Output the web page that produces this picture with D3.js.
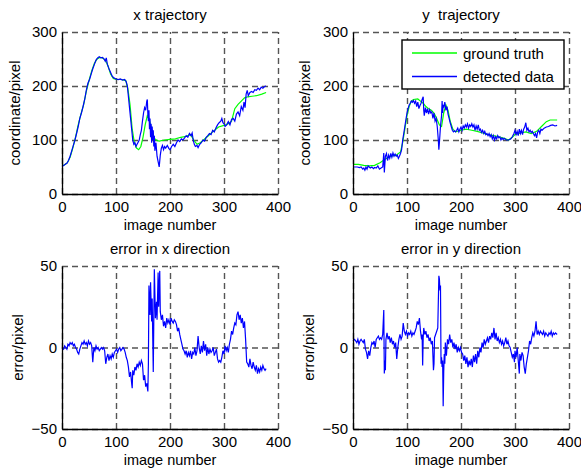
<!DOCTYPE html>
<html>
<head>
<meta charset="utf-8">
<script src="https://cdn.jsdelivr.net/npm/d3@7"></script>
<style>
  body { margin: 0; background: #fff; }
  text { font-family: "Liberation Sans", Arial, sans-serif; fill: #000; }
</style>
</head>
<body>
<div id="chart"></div>
<script>
// tick labels
var frameTicks = [0, 100, 200, 300, 400]
var coordTicks = [0, 100, 200, 300]
var errorTicks = [-50, 0, 50]
var legendNames = ['ground truth', 'detected data']
var legendColors = ['#00ff00', '#0000ff']

// [image number, value]
var xTruth = [[0,52],[5,54],[10,58],[15,68],[20,85],[25,105],[30,128],[35,148],[40,165],[45,190],[50,210],[55,228],[60,242],[65,250],[70,253],[75,252],[80,248],[85,238],[90,222],[95,214],[100,212],[110,212],[118,210],[122,195],[126,165],[130,120],[134,95],[138,85],[142,82],[146,88],[150,105],[154,128],[158,145],[161,140],[164,128],[168,112],[172,102],[176,99],[180,98],[190,100],[200,101],[210,102],[220,105],[230,107],[238,110],[244,100],[250,92],[256,95],[262,100],[270,107],[280,116],[290,124],[300,127],[308,130],[314,135],[320,158],[326,166],[332,172],[338,178],[344,180],[352,181],[360,182],[370,185],[378,188]]

var xDetected = [[0,51],[3,53],[6,55],[9,57],[12,62],[15,70],[18,80],[21,90],[24,100],[27,112],[30,125],[33,140],[36,150],[39,162],[42,175],[45,192],[48,205],[51,212],[54,222],[57,232],[60,240],[63,248],[66,252],[69,254],[72,252],[75,253],[78,250],[80,246],[82,252],[84,240],[87,232],[90,225],[93,218],[96,215],[100,213],[104,212],[108,213],[112,211],[116,212],[119,208],[121,200],[123,180],[125,160],[127,140],[129,120],[131,100],[133,92],[135,95],[137,88],[139,92],[141,96],[143,100],[145,110],[147,118],[149,135],[151,150],[153,160],[155,155],[157,172],[158,175],[159,148],[160,135],[161,155],[162,120],[163,140],[164,105],[165,130],[166,95],[167,125],[168,100],[169,118],[170,88],[171,108],[172,80],[174,95],[176,70],[178,60],[180,50],[182,72],[184,85],[186,90],[188,82],[190,88],[192,85],[195,90],[198,84],[200,82],[203,88],[206,92],[209,88],[212,95],[215,100],[218,97],[221,102],[224,100],[227,104],[230,108],[233,105],[236,112],[239,108],[241,113],[243,100],[245,92],[247,88],[250,90],[252,86],[255,92],[258,95],[261,100],[264,98],[267,105],[270,108],[273,112],[276,110],[279,118],[282,115],[285,122],[288,128],[291,132],[294,135],[296,140],[298,132],[300,130],[302,125],[305,128],[308,134],[311,128],[314,138],[317,140],[320,135],[323,148],[326,152],[329,145],[332,162],[335,155],[337,170],[339,160],[341,185],[343,192],[345,182],[348,188],[351,190],[354,188],[357,193],[360,192],[363,196],[366,193],[369,198],[372,196],[375,199],[378,200]]

var yTruth = [[0,55],[10,55],[20,53],[30,52],[40,53],[50,58],[60,65],[70,70],[80,72],[88,78],[92,95],[96,120],[100,145],[104,162],[108,172],[112,175],[120,176],[125,172],[130,168],[135,162],[140,158],[145,155],[150,150],[155,140],[160,128],[164,125],[168,150],[172,165],[176,155],[180,135],[185,120],[190,115],[200,118],[210,120],[220,118],[230,116],[240,113],[250,110],[260,108],[270,106],[280,103],[288,100],[295,105],[300,110],[310,113],[320,115],[330,112],[340,116],[350,126],[358,134],[365,137],[378,137]]

var yDetected = [[0,50],[4,50],[8,50],[12,49],[15,50],[18,46],[20,48],[22,44],[24,50],[26,46],[28,52],[30,50],[32,48],[35,50],[38,47],[40,49],[43,48],[46,52],[49,46],[52,48],[55,50],[57,76],[58,40],[60,70],[62,75],[64,62],[66,72],[68,66],[70,75],[72,68],[74,76],[76,70],[78,74],[80,70],[82,72],[84,66],[86,70],[88,75],[90,82],[92,100],[94,112],[96,125],[98,138],[100,150],[102,158],[104,165],[106,168],[108,172],[110,170],[112,173],[114,168],[116,172],[118,162],[120,170],[122,158],[124,164],[126,168],[128,175],[130,180],[131,155],[132,145],[134,160],[136,150],[138,158],[140,148],[142,156],[144,150],[146,152],[148,140],[150,150],[152,135],[154,140],[156,125],[158,100],[159,82],[160,95],[161,110],[162,125],[164,145],[165,172],[166,150],[167,165],[168,160],[170,170],[172,155],[174,162],[176,148],[178,140],[180,132],[182,125],[184,118],[186,115],[188,117],[190,115],[192,118],[194,122],[196,115],[198,120],[200,124],[202,118],[204,126],[206,122],[208,128],[210,124],[212,130],[214,122],[216,128],[218,125],[220,130],[222,124],[224,128],[226,118],[228,126],[230,120],[232,128],[234,118],[236,120],[238,114],[240,118],[242,112],[244,116],[246,110],[248,112],[250,108],[252,112],[254,106],[256,110],[258,102],[260,108],[262,100],[264,106],[266,102],[268,108],[270,104],[272,106],[274,100],[276,104],[278,101],[280,103],[284,100],[288,100],[292,102],[295,106],[298,112],[300,118],[302,110],[304,116],[306,108],[308,120],[310,112],[312,118],[314,110],[316,120],[318,124],[320,132],[322,118],[324,122],[326,115],[328,118],[330,114],[332,116],[334,112],[336,108],[338,112],[340,104],[342,115],[344,118],[346,112],[348,120],[350,118],[354,122],[358,124],[362,125],[366,127],[370,128],[374,126],[378,127]]

var xError = [[0,0],[3,-1],[5,1],[7,0],[9,-1],[11,2],[13,1],[15,3],[17,2],[19,3],[21,1],[23,2],[25,0],[27,-1],[29,-3],[31,-4],[33,-1],[35,1],[37,3],[39,2],[41,4],[43,2],[45,3],[47,1],[49,4],[51,2],[53,3],[55,1],[57,-9],[59,0],[61,-2],[63,1],[65,-1],[67,0],[69,-2],[71,-1],[73,0],[75,-1],[77,0],[79,-2],[81,-10],[83,-6],[85,-4],[87,-8],[89,-5],[91,-7],[93,-4],[95,-6],[97,-3],[99,-2],[101,-1],[103,-3],[105,-1],[107,0],[109,-2],[111,-1],[113,0],[115,-1],[117,-3],[119,-6],[121,-8],[123,-12],[125,-18],[127,-15],[129,-22],[130,-25],[131,-14],[133,-17],[135,-12],[137,-14],[139,-10],[141,-12],[143,-9],[145,-11],[147,-8],[149,-10],[151,-20],[153,-17],[155,-24],[157,-22],[159,-27],[160,-10],[161,38],[163,20],[164,40],[166,16],[167,30],[169,-15],[171,48],[173,18],[175,28],[176,17],[178,46],[179,25],[181,47],[182,22],[184,17],[186,20],[188,13],[190,16],[192,12],[194,18],[196,15],[198,17],[200,14],[202,18],[204,16],[206,15],[208,17],[210,16],[212,14],[214,10],[216,12],[218,8],[220,5],[222,2],[224,-1],[226,-2],[228,-4],[230,-2],[232,-6],[234,-3],[236,-5],[238,-2],[240,-7],[242,-3],[244,-4],[246,0],[248,-5],[250,-2],[252,7],[254,0],[256,-4],[258,1],[260,-3],[262,4],[264,-2],[266,2],[268,-5],[270,0],[272,-4],[274,-1],[276,-3],[278,-2],[280,0],[282,-5],[284,-3],[286,-1],[288,-7],[290,-9],[292,-8],[294,-9],[296,-6],[298,-2],[300,-4],[302,1],[304,-2],[306,0],[308,-3],[310,2],[312,5],[314,10],[316,8],[318,12],[320,15],[322,14],[324,20],[326,22],[328,17],[330,20],[332,15],[334,18],[336,12],[338,16],[340,5],[342,-9],[344,-10],[346,-12],[348,-7],[350,-11],[352,-13],[354,-9],[356,-12],[358,-14],[360,-11],[362,-16],[364,-13],[366,-15],[368,-12],[370,-14],[372,-11],[374,-13],[376,-14],[378,-13]]

var yError = [[0,4],[3,5],[5,4],[7,3],[9,5],[11,2],[13,4],[15,5],[17,4],[19,3],[21,5],[23,-1],[25,-3],[27,-7],[29,-2],[31,-5],[33,0],[35,3],[37,2],[39,4],[41,0],[43,5],[45,6],[47,7],[49,5],[51,6],[53,5],[55,8],[57,23],[58,-16],[59,-8],[60,-14],[61,5],[63,9],[65,5],[67,7],[69,3],[71,6],[73,2],[75,4],[77,0],[79,3],[81,-7],[83,0],[85,5],[87,8],[89,5],[91,7],[93,15],[95,10],[97,8],[99,10],[101,7],[103,9],[105,8],[107,10],[109,7],[111,9],[113,8],[115,10],[117,12],[119,16],[121,14],[123,18],[125,10],[127,5],[128,8],[129,-11],[130,6],[131,12],[133,8],[135,10],[137,6],[139,8],[141,4],[143,6],[145,2],[147,4],[149,-14],[150,-10],[151,6],[153,8],[155,10],[157,12],[159,44],[160,42],[161,35],[162,38],[163,-10],[164,-6],[165,-12],[166,-8],[167,-36],[168,-15],[169,-4],[170,-10],[171,3],[173,-5],[175,5],[177,2],[179,8],[181,3],[183,5],[185,0],[187,3],[189,-1],[191,2],[193,-3],[195,0],[197,-2],[199,0],[201,-3],[203,-4],[205,-8],[207,-5],[209,-10],[211,-6],[213,-12],[215,-8],[217,-11],[219,-7],[221,-12],[223,-5],[225,-9],[227,-4],[229,-10],[231,-2],[233,-6],[235,0],[237,-3],[239,3],[241,0],[243,5],[245,2],[247,4],[249,6],[251,3],[253,7],[255,5],[257,9],[259,6],[261,12],[263,5],[265,9],[267,4],[269,6],[271,3],[273,5],[275,2],[277,4],[279,1],[281,3],[283,6],[285,2],[287,4],[289,1],[291,0],[293,-3],[295,-6],[297,-4],[299,-9],[300,-2],[302,-6],[304,0],[306,-8],[308,-16],[309,-4],[311,-8],[313,-3],[315,-5],[317,-12],[319,-16],[321,-10],[323,-6],[325,-2],[327,4],[329,2],[331,6],[333,9],[335,7],[337,10],[339,16],[341,8],[343,10],[345,8],[347,10],[349,9],[351,8],[353,10],[355,7],[357,9],[359,8],[361,7],[363,9],[365,8],[367,10],[369,7],[371,9],[373,8],[375,9],[378,8]]

var width = 581
var height = 474

var svg = d3.select("#chart")
  .append("svg")
  .attr("width", width)
  .attr("height", height)

var panels = [
  { left: 62, top: 32, bottom: 194, title: 'x trajectory', ylabel: 'coordinate/pixel', labelX: 19.5, yDomain: [0, 300], yTicks: coordTicks, series: [[xTruth, '#00ff00'], [xDetected, '#0000ff']] },
  { left: 353, top: 32, bottom: 194, title: 'y  trajectory', ylabel: 'coordinate/pixel', labelX: 309.5, yDomain: [0, 300], yTicks: coordTicks, series: [[yTruth, '#00ff00'], [yDetected, '#0000ff']] },
  { left: 62, top: 266, bottom: 429, title: 'error in x direction', ylabel: 'error/pixel', labelX: 23, yDomain: [-50, 50], yTicks: errorTicks, series: [[xError, '#0000ff']] },
  { left: 353, top: 266, bottom: 429, title: 'error in y direction', ylabel: 'error/pixel', labelX: 314, yDomain: [-50, 50], yTicks: errorTicks, series: [[yError, '#0000ff']] }
]
var plotWidth = 216

panels.forEach(function(p) {
  var xScale = d3.scaleLinear()
    .domain([0, 400])
    .range([p.left, p.left + plotWidth])
  var yScale = d3.scaleLinear()
    .domain(p.yDomain)
    .range([p.bottom, p.top])

  var g = svg.append("g")

  // dashed grid (also gives the dashed top and right edges)
  var xGrid = d3.axisBottom(xScale)
    .tickValues(frameTicks)
    .tickSize(-(p.bottom - p.top))
    .tickFormat("")
  g.append("g")
    .attr("class", "grid")
    .attr("transform", `translate(0,${p.bottom})`)
    .call(xGrid)
  var yGrid = d3.axisLeft(yScale)
    .tickValues(p.yTicks)
    .tickSize(-plotWidth)
    .tickFormat("")
  g.append("g")
    .attr("class", "grid")
    .attr("transform", `translate(${p.left},0)`)
    .call(yGrid)
  g.selectAll(".grid .domain").remove()
  g.selectAll(".grid line")
    .style("stroke", "#555")
    .style("stroke-width", 1.4)
    .style("stroke-dasharray", "6,4")

  // lines
  var line = d3.line()
    .x(d => xScale(d[0]))
    .y(d => yScale(d[1]))
  p.series.forEach(function(s) {
    g.append("path")
      .datum(s[0])
      .attr("d", line)
      .style("fill", "none")
      .style("stroke", s[1])
      .style("stroke-width", 1.2)
  })

  // solid left and bottom axes
  var xAxis = d3.axisBottom(xScale)
    .tickValues(frameTicks)
    .tickSize(0)
    .tickPadding(7)
  g.append("g")
    .attr("transform", `translate(0,${p.bottom})`)
    .call(xAxis)
    .call(a => a.select(".domain").style("stroke", "#000").style("stroke-width", 1.3))
    .selectAll("text")
    .style("font-size", "15px")
    .style("font-family", '"Liberation Sans", Arial, sans-serif')
  var yAxis = d3.axisLeft(yScale)
    .tickValues(p.yTicks)
    .tickSize(0)
    .tickPadding(5)
  g.append("g")
    .attr("transform", `translate(${p.left},0)`)
    .call(yAxis)
    .call(a => a.select(".domain").style("stroke", "#000").style("stroke-width", 1.3))
    .selectAll("text")
    .style("font-size", "15px")
    .style("font-family", '"Liberation Sans", Arial, sans-serif')

  // title and axis labels
  g.append("text")
    .attr("x", p.left + plotWidth / 2)
    .attr("y", p.top - 12.5)
    .attr("text-anchor", "middle")
    .style("font-size", "15px")
    .style("white-space", "pre")
    .text(p.title)
  g.append("text")
    .attr("x", p.left + plotWidth / 2)
    .attr("y", p.bottom + 36)
    .attr("text-anchor", "middle")
    .style("font-size", "14.5px")
    .text('image number')
  g.append("text")
    .attr("transform", `translate(${p.labelX},${(p.top + p.bottom) / 2}) rotate(-90)`)
    .attr("text-anchor", "middle")
    .style("font-size", "15px")
    .text(p.ylabel)
})

// legend in the y trajectory panel
var legend = svg.append("g")
  .attr("transform", "translate(402,40)")
legend.append("rect")
  .attr("width", 162)
  .attr("height", 49)
  .style("fill", "#fff")
  .style("stroke", "#000")
  .style("stroke-width", 1.4)
legend.selectAll("line.key")
  .data(legendNames)
  .enter()
  .append("line")
  .attr("class", "key")
  .attr("x1", 10)
  .attr("x2", 55)
  .attr("y1", (d, i) => 13 + i * 23.5)
  .attr("y2", (d, i) => 13 + i * 23.5)
  .style("stroke", (d, i) => legendColors[i])
  .style("stroke-width", 1.5)
legend.selectAll("text.key")
  .data(legendNames)
  .enter()
  .append("text")
  .attr("class", "key")
  .attr("x", 61)
  .attr("y", (d, i) => 18.5 + i * 23.5)
  .style("font-size", "15px")
  .text(d => d)
</script>
</body>
</html>
